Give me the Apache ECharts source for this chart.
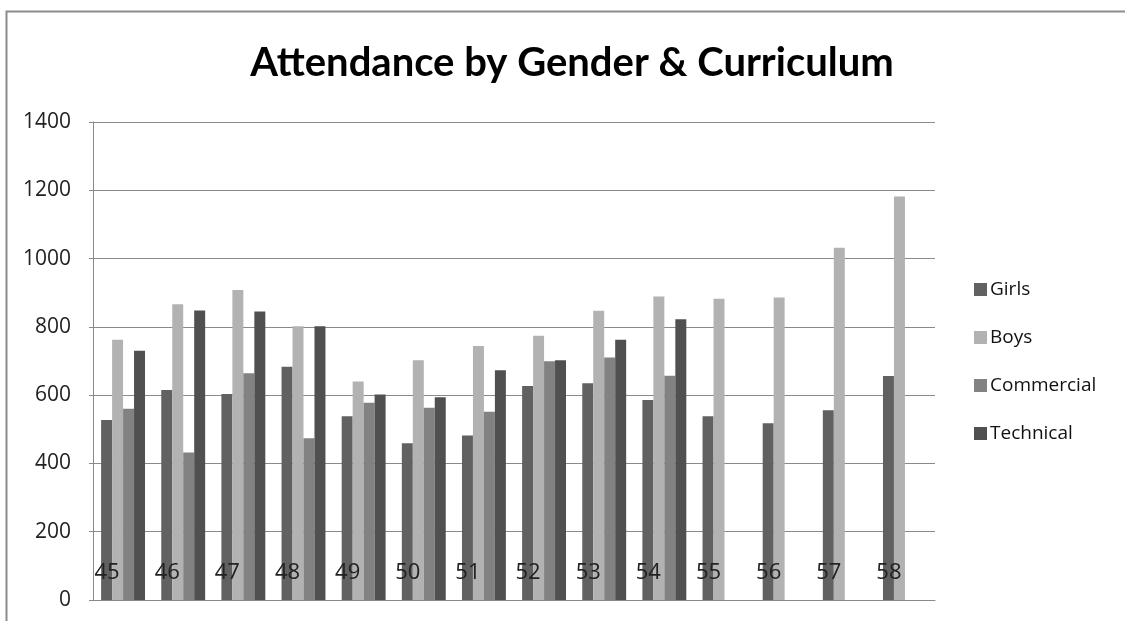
<!DOCTYPE html>
<html>
<head>
<meta charset="utf-8">
<script src="https://cdn.jsdelivr.net/npm/echarts@6/dist/echarts.min.js"></script>
<style>
  html, body { margin: 0; padding: 0; background: #ffffff; }
  #chart { width: 1125px; height: 621px; }
</style>
</head>
<body>
<div id="chart"></div>
<script>
// School years
const years = ['45', '46', '47', '48', '49', '50', '51', '52', '53', '54', '55', '56', '57', '58'];
// Attendance counts per year
const girls      = [527, 615, 603, 683, 538, 459, 482, 627, 635, 586, 538, 518, 556, 656];
const boys       = [762, 866, 908, 802, 640, 702, 744, 774, 847, 889, 882, 886, 1032, 1182];
const commercial = [560, 432, 664, 474, 578, 563, 551, 699, 710, 657, null, null, null, null];
const technical  = [730, 848, 845, 802, 602, 594, 673, 702, 762, 822, null, null, null, null];
const yTicks = [0, 200, 400, 600, 800, 1000, 1200, 1400];

const seriesDefs = [
  { name: 'Girls', data: girls, color: '#616161' },
  { name: 'Boys', data: boys, color: '#b2b2b2' },
  { name: 'Commercial', data: commercial, color: '#828282' },
  { name: 'Technical', data: technical, color: '#505050' }
];

const labelFont = '"Open Sans", "Liberation Sans", sans-serif';

const chart = echarts.init(document.getElementById('chart'), null, { renderer: 'canvas' });
chart.setOption({
  animation: false,
  backgroundColor: '#ffffff',
  graphic: [{
    type: 'rect',
    left: 4, top: 9,
    shape: { width: 1140, height: 640 },
    style: { fill: 'none', stroke: '#8c8c8c', lineWidth: 2 },
    silent: true
  }],
  title: {
    text: 'Attendance by Gender & Curriculum',
    left: 567, top: 38,
    textAlign: 'center',
    textStyle: { fontFamily: 'Lato, "Open Sans", sans-serif', fontWeight: 'bold', fontSize: 40, color: '#000000' }
  },
  legend: {
    orient: 'vertical',
    left: 969, top: 275,
    itemWidth: 13, itemHeight: 13, itemGap: 29,
    icon: 'rect',
    textStyle: { fontFamily: labelFont, fontSize: 19, color: '#111111', padding: [0, 0, 0, -2] },
    data: seriesDefs.map(s => s.name)
  },
  grid: { left: 93, right: 190, top: 122, bottom: 21, containLabel: false },
  xAxis: {
    type: 'category',
    data: years,
    z: 10,
    axisLine: { show: true, lineStyle: { color: '#8a8a8a', width: 1 } },
    axisTick: { show: false },
    axisLabel: {
      inside: true,
      margin: 16,
      fontFamily: labelFont,
      fontSize: 22,
      color: '#222222',
      padding: [0, 32, 0, 0]
    },
    splitLine: { show: false }
  },
  yAxis: {
    type: 'value',
    min: yTicks[0], max: yTicks[yTicks.length - 1], interval: 200,
    axisLine: { show: true, lineStyle: { color: '#8a8a8a', width: 1 } },
    axisTick: { show: true, length: 4, lineStyle: { color: '#8a8a8a' } },
    axisLabel: { margin: 22, fontFamily: labelFont, fontSize: 21, color: '#222222', formatter: v => String(v) },
    splitLine: { show: true, lineStyle: { color: '#8a8a8a', width: 1 } }
  },
  series: seriesDefs.map(s => ({
    name: s.name,
    type: 'bar',
    data: s.data,
    barGap: '0%',
    barCategoryGap: '27%',
    itemStyle: { color: s.color }
  }))
});
</script>
</body>
</html>
